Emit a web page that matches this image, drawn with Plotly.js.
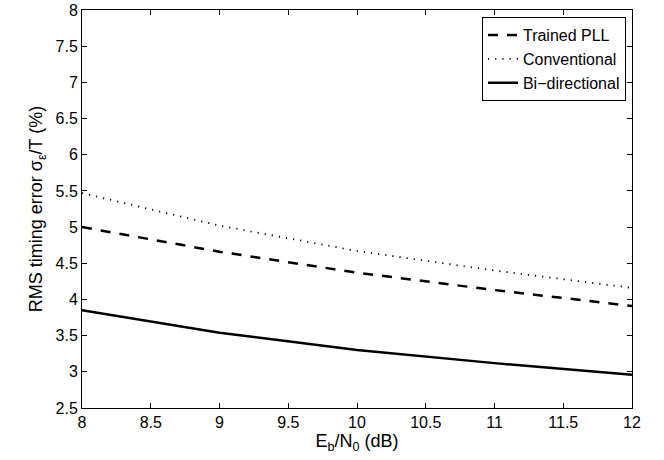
<!DOCTYPE html>
<html>
<head>
<meta charset="utf-8">
<script src="https://cdn.plot.ly/plotly-3.0.1.min.js"></script>
<style>html,body{margin:0;padding:0;background:#fff;}#chart{width:664px;height:460px;}</style>
</head>
<body>
<div id="chart"></div>
<script>
const ebn0 = [8, 9, 10, 11, 12];
const trainedPLL = [5.0, 4.66, 4.37, 4.13, 3.91];
const conventional = [5.47, 5.02, 4.67, 4.40, 4.16];
const biDirectional = [3.85, 3.54, 3.30, 3.12, 2.96];
const seriesNames = ['Trained PLL', 'Conventional', 'Bi\u2212directional'];

const traces = [
  {x: ebn0, y: trainedPLL, name: seriesNames[0], mode: 'lines',
   line: {color: '#000', width: 2.5, dash: '10px,9px'}},
  {x: ebn0, y: conventional, name: seriesNames[1], mode: 'lines',
   line: {color: '#000', width: 1.8, dash: '1.2px,6px'}},
  {x: ebn0, y: biDirectional, name: seriesNames[2], mode: 'lines',
   line: {color: '#000', width: 2.5}}
];

const fam = 'Liberation Sans, Arial, Helvetica, sans-serif';

const layout = {
  width: 664, height: 460,
  margin: {l: 82, r: 32, t: 10, b: 52},
  paper_bgcolor: '#fff', plot_bgcolor: '#fff',
  font: {family: fam, size: 16, color: '#000'},
  showlegend: true,
  legend: {x: 0.989, y: 0.982, xanchor: 'right', yanchor: 'top',
           bordercolor: '#000', borderwidth: 1, bgcolor: '#fff',
           font: {family: fam, size: 16, color: '#000'},
           tracegroupgap: 0},
  xaxis: {range: [8, 12], dtick: 0.5, tick0: 8, ticks: 'inside', ticklen: 5,
          tickcolor: '#000', showline: true, linecolor: '#000', linewidth: 1,
          mirror: 'ticks', showgrid: false, zeroline: false,
          tickfont: {family: fam, size: 16, color: '#000'},
          title: {text: 'E<sub>b</sub>/N<sub>0</sub> (dB)', standoff: 2,
                  font: {family: fam, size: 18, color: '#000'}}},
  yaxis: {range: [2.5, 8], dtick: 0.5, tick0: 2.5, ticks: 'inside', ticklen: 5,
          tickcolor: '#000', showline: true, linecolor: '#000', linewidth: 1,
          mirror: 'ticks', showgrid: false, zeroline: false,
          tickfont: {family: fam, size: 16, color: '#000'},
          title: {text: 'RMS timing error \u03c3<sub>\u03b5</sub>/T (%)', standoff: 8,
                  font: {family: fam, size: 18, color: '#000'}}}
};

Plotly.newPlot('chart', traces, layout, {staticPlot: true, displayModeBar: false});
</script>
</body>
</html>
